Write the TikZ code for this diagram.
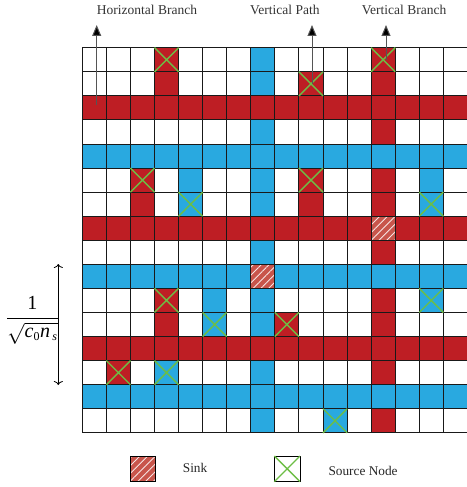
\documentclass[tikz,border=0pt]{standalone}
\usepackage{fontspec}
\setmainfont{Liberation Serif}
\usetikzlibrary{patterns.meta,arrows.meta}
\definecolor{cred}{RGB}{190,30,36}
\definecolor{cblue}{RGB}{41,169,224}
\definecolor{cgreen}{RGB}{109,190,69}
\definecolor{csink}{RGB}{200,85,75}
\definecolor{carrow}{RGB}{85,85,85}
\newcommand\gridX{82.3}
\newcommand\gridY{47.7}
\newcommand\cellsz{24.07}
\newcommand\cellfill[3]{\fill[#1] ({\gridX+#2*\cellsz},{\gridY+#3*\cellsz}) rectangle ++(\cellsz,\cellsz);}
\newcommand\srcmark[2]{\draw[srcline] ({\gridX+#1*\cellsz},{\gridY+#2*\cellsz}) -- ++(\cellsz,\cellsz) ({\gridX+(#1+1)*\cellsz},{\gridY+#2*\cellsz}) -- ++(-\cellsz,\cellsz);}
\newcommand\sinkcell[2]{\fill[csink] ({\gridX+#1*\cellsz},{\gridY+#2*\cellsz}) rectangle ++(\cellsz,\cellsz);
  \fill[pattern={Lines[angle=45,distance=5.5pt,line width=0.9pt]},pattern color=white!85!csink] ({\gridX+#1*\cellsz},{\gridY+#2*\cellsz}) rectangle ++(\cellsz,\cellsz);}
\begin{document}
\begin{tikzpicture}[x=1pt,y=-1pt,
  srcline/.style={draw=cgreen,line width=1.4pt},
  gridline/.style={draw=black!90,line width=0.9pt},
  uparrow/.style={draw=carrow,line width=1pt,-{Triangle[length=11pt,width=9pt,fill=black]}},
  toplabel/.style={anchor=base west,inner sep=0pt,font=\fontsize{13.5}{16}\selectfont,text=black!80},
  leglabel/.style={anchor=base west,inner sep=0pt,font=\fontsize{13.3}{16}\selectfont,text=black!85}]
\useasboundingbox (0,0) rectangle (466,487);
% blue vertical path
\foreach \r in {0,...,15} {\cellfill{cblue}{7}{\r}}
% red horizontal branches
\foreach \r in {2,7,12} {\foreach \c in {0,...,15} {\cellfill{cred}{\c}{\r}}}
% red vertical branch
\foreach \r in {0,...,15} {\cellfill{cred}{12}{\r}}
% blue horizontal rows
\foreach \r in {4,9,14} {\foreach \c in {0,...,15} {\cellfill{cblue}{\c}{\r}}}
% small red branches
\foreach \c/\r in {3/0,3/1,9/1,2/5,2/6,9/5,9/6,3/10,3/11,8/11,1/13} {\cellfill{cred}{\c}{\r}}
% small blue branches
\foreach \c/\r in {4/5,4/6,14/5,14/6,5/10,5/11,14/10,3/13,10/15} {\cellfill{cblue}{\c}{\r}}
% sinks
\sinkcell{12}{7}
\sinkcell{7}{9}
% grid
\foreach \i in {0,...,16} {
  \draw[gridline] ({\gridX+\i*\cellsz},\gridY) -- ++(0,{16*\cellsz});
  \draw[gridline] (\gridX,{\gridY+\i*\cellsz}) -- ++({16*\cellsz},0);
}
% sources
\foreach \c/\r in {3/0,12/0,9/1,2/5,9/5,4/6,14/6,3/10,14/10,5/11,8/11,1/13,3/13,10/15} {\srcmark{\c}{\r}}
% top labels and arrows
\node[toplabel] (hb) at (96.7,14.5) {Horizontal Branch};
\node[toplabel] (vp) at (250,14.5) {Vertical Path};
\node[toplabel] (vb) at (361.7,14.5) {Vertical Branch};
\coordinate (hbs) at (96.7,105);
\coordinate (hbe) at (96.7,25);
\coordinate (vps) at (312,83.7);
\coordinate (vpe) at (312,25);
\coordinate (vbs) at (386,59.7);
\coordinate (vbe) at (386,25);
\draw[uparrow] (hbs) -- (hbe);
\draw[uparrow] (vps) -- (vpe);
\draw[uparrow] (vbs) -- (vbe);
% left dimension
\coordinate (dt) at (58.3,264);
\coordinate (db) at (58.3,385);
\draw[line width=0.8pt,{To[length=4pt,width=9pt]}-{To[length=4pt,width=9pt]}] (dt) -- (db);
\node[inner sep=0pt,font=\fontsize{20}{24}\selectfont] (frac) at (32.5,320) {$\displaystyle\frac{\mbox{1}}{\sqrt{\mbox{\itshape c}_{\mbox{\fontsize{12}{14}\selectfont 0}}\mbox{\itshape n}_{\,\mbox{\fontsize{12}{14}\selectfont\itshape s}}}}$};
% legend
\draw[line width=0.8pt,fill=csink] (130,456) rectangle (155,481.7);
\fill[pattern={Lines[angle=45,distance=5.5pt,line width=0.9pt]},pattern color=white!85!csink] (130,456) rectangle (155,481.7);
\draw[line width=0.8pt] (130,456) rectangle (155,481.7);
\node[leglabel] (sink) at (182.7,472) {Sink};
\draw[line width=0.8pt,fill=white] (274.3,456) rectangle (300,481.7);
\draw[srcline] (274.3,456) -- (300,481.7) (300,456) -- (274.3,481.7);
\node[leglabel] (src) at (328.3,475.5) {Source Node};
\end{tikzpicture}
\end{document}
